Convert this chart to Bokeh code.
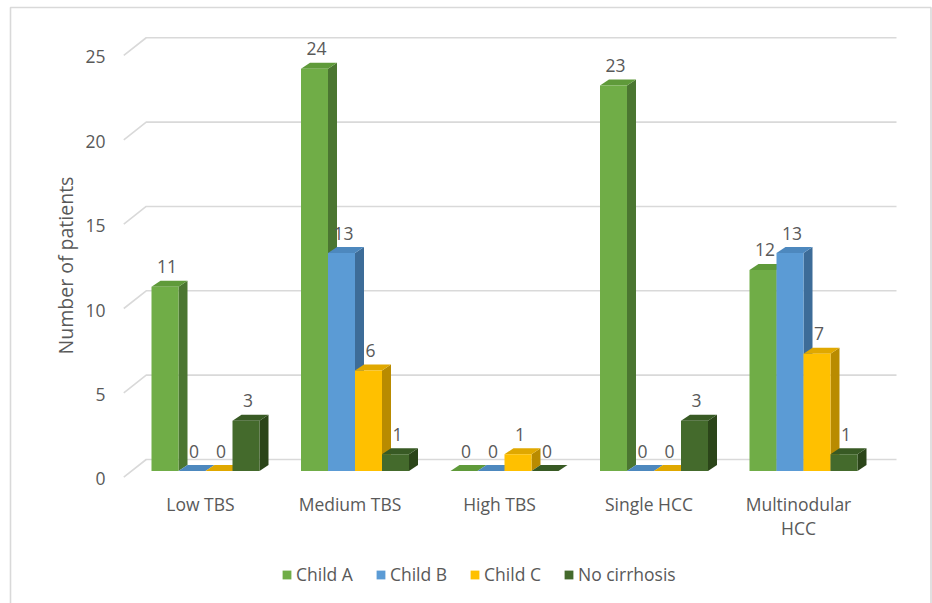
import math

from bokeh.core.properties import value
from bokeh.embed import file_html
from bokeh.models import ColumnDataSource, Legend, LegendItem, Range1d
from bokeh.plotting import figure
from bokeh.resources import INLINE

# ---- data -----------------------------------------------------------------
categories = ["Low TBS", "Medium TBS", "High TBS", "Single HCC", "Multinodular\nHCC"]
series_names = ["Child A", "Child B", "Child C", "No cirrhosis"]
child_a = [11, 24, 0, 23, 12]
child_b = [0, 13, 0, 0, 13]
child_c = [0, 6, 1, 0, 7]
no_cirrhosis = [3, 1, 0, 3, 1]
y_ticks = [0, 5, 10, 15, 20, 25]
y_title = "Number of patients"

series_values = [child_a, child_b, child_c, no_cirrhosis]

# front / top / side shades of each series
palette = [
    ("#70AD47", "#5F9A3A", "#4B7631"),
    ("#5B9BD5", "#4D88BE", "#3D6C98"),
    ("#FFC000", "#E0A800", "#B98B00"),
    ("#446A2C", "#385A24", "#2B4519"),
]

# ---- layout (pixels of the page) -----------------------------------------
W, H = 932, 603
GX0, GXS = 205.0, 149.5      # centre of first category, px per category
GY0, GYS = 470.5, 16.76      # value 0 on the bar front plane, px per unit
BACK_Y0, BACK_YS = 459.0, 16.87   # back wall gridlines
WALL_X_FRONT, WALL_X_BACK, WALL_DY = 123.3, 145.7, 17.7
GRID_X_END = 896.0
BAR_PX = 27.0
DEPTH_DX, DEPTH_DY = 9.0, 6.0

TEXT = "#595959"
FONT = "Open Sans"
FS = "17.5px"


def xd(px):
    return (px - GX0) / GXS


def yd(py):
    return (GY0 - py) / GYS


bar_w = BAR_PX / GXS
ddx = DEPTH_DX / GXS
ddy = DEPTH_DY / GYS

p = figure(
    width=W, height=H,
    x_range=Range1d(xd(0), xd(W)),
    y_range=Range1d(yd(H), yd(0)),
    output_backend="svg", toolbar_location=None,
    min_border=0, outline_line_color=None,
)
p.axis.visible = False
p.grid.visible = False
p.background_fill_color = "white"
p.border_fill_color = "white"

# chart area border
p.quad(left=[xd(10)], right=[xd(930.5)], top=[yd(7)], bottom=[yd(640)],
       fill_color=None, line_color="#D9D9D9", line_width=1.6)

# back wall gridlines plus the receding lines on the side wall
gx, gy = [], []
for v in y_ticks:
    yb = BACK_Y0 - BACK_YS * v
    gx.append([xd(WALL_X_FRONT), xd(WALL_X_BACK), xd(GRID_X_END)])
    gy.append([yd(yb + WALL_DY), yd(yb), yd(yb)])
p.multi_line(gx, gy, line_color="#D9D9D9", line_width=1.6)

# y tick labels
p.text(
    x=[xd(105)] * len(y_ticks),
    y=[yd(BACK_Y0 - BACK_YS * v + WALL_DY + 1.5) for v in y_ticks],
    text=[str(v) for v in y_ticks],
    text_align="right", text_baseline="middle",
    text_font=value(FONT), text_font_size=FS, text_color=TEXT,
)

# y axis title
p.text(x=[xd(65)], y=[yd(265)], text=[y_title], angle=math.pi / 2,
       text_align="center", text_baseline="middle",
       text_font=value(FONT), text_font_size="19.5px", text_color=TEXT)

# 3-D bars, drawn series by series so later bars hide earlier side faces
legend_items = []
for j, (name, vals) in enumerate(zip(series_names, series_values)):
    front, top, side = palette[j]
    xc = [i + (j - 1.5) * bar_w for i in range(len(categories))]
    x0 = [c - bar_w / 2 for c in xc]
    x1 = [c + bar_w / 2 for c in xc]

    side_xs = [[b, b, b + ddx, b + ddx] for b in x1]
    side_ys = [[0, v, v + ddy, ddy] for v in vals]
    p.patches(side_xs, side_ys, fill_color=side, line_color=None)

    top_xs = [[a, b, b + ddx, a + ddx] for a, b in zip(x0, x1)]
    top_ys = [[v, v, v + ddy, v + ddy] for v in vals]
    p.patches(top_xs, top_ys, fill_color=top, line_color=None)

    src = ColumnDataSource(dict(x=xc, top=vals))
    r = p.vbar(x="x", top="top", bottom=0, width=bar_w, source=src,
               fill_color=front, line_color=None)
    legend_items.append(LegendItem(label=name, renderers=[r]))

    # value labels
    p.text(x=[c + 2 / GXS for c in xc], y=[v + 20 / GYS for v in vals],
           text=[str(v) for v in vals],
           text_align="center", text_baseline="middle",
           text_font=value(FONT), text_font_size=FS, text_color=TEXT)

# category labels (one glyph row per text line)
lx, ly, lt = [], [], []
for i, cat in enumerate(categories):
    for k, line in enumerate(cat.split("\n")):
        lx.append(i - 5 / GXS)
        ly.append(yd(503 + 24 * k))
        lt.append(line)
p.text(x=lx, y=ly, text=lt, text_align="center", text_baseline="middle",
       text_font=value(FONT), text_font_size=FS, text_color=TEXT)

legend = Legend(
    items=legend_items, orientation="horizontal", location=(281, 17),
    padding=0, margin=0, spacing=22, label_standoff=4,
    glyph_width=11, glyph_height=11, label_height=11,
    label_text_font=FONT, label_text_font_size=FS,
    label_text_color=TEXT, label_text_baseline="middle",
    border_line_color=None, background_fill_alpha=0,
)
p.add_layout(legend)

open("out.html", "w").write(file_html(p, INLINE))
